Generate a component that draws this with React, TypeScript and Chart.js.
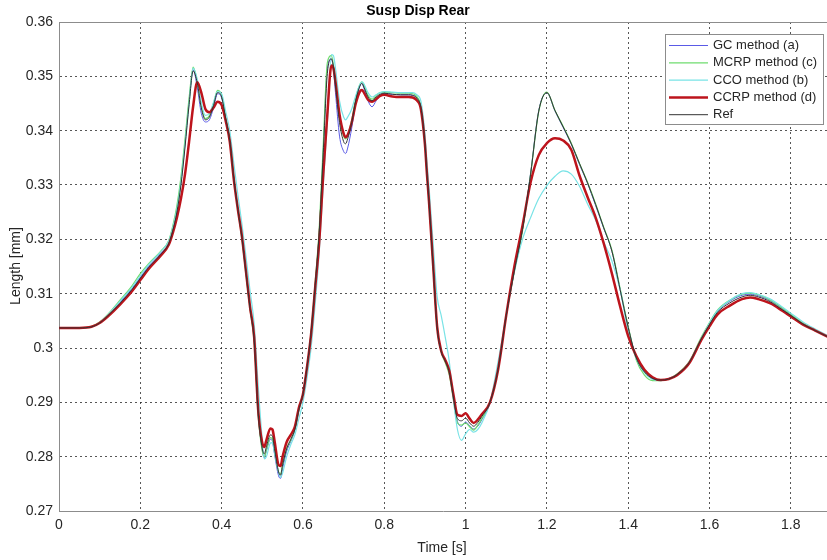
import { useEffect, useRef } from "react";
import { Chart, registerables } from "chart.js";

Chart.register(...registerables);

// Sample times [s]
const timeS = [
  0, 0.05, 0.08, 0.1, 0.12, 0.15, 0.18, 0.2, 0.22, 0.25,
  0.27, 0.28, 0.29, 0.3, 0.31, 0.32, 0.33, 0.34, 0.35, 0.36,
  0.37, 0.38, 0.39, 0.4, 0.41, 0.42, 0.43, 0.44, 0.45, 0.46,
  0.47, 0.48, 0.49, 0.5, 0.505, 0.51, 0.52, 0.525, 0.53, 0.54,
  0.545, 0.55, 0.56, 0.57, 0.58, 0.59, 0.6, 0.61, 0.62, 0.63,
  0.64, 0.65, 0.66, 0.67, 0.675, 0.68, 0.69, 0.7, 0.705, 0.71,
  0.72, 0.73, 0.74, 0.745, 0.75, 0.76, 0.77, 0.78, 0.79, 0.8,
  0.82, 0.84, 0.86, 0.87, 0.88, 0.89, 0.9, 0.905, 0.91, 0.92,
  0.93, 0.94, 0.95, 0.96, 0.97, 0.98, 0.99, 1.0, 1.01, 1.02,
  1.03, 1.04, 1.06, 1.08, 1.1, 1.12, 1.14, 1.16, 1.18, 1.2,
  1.22, 1.24, 1.26, 1.28, 1.3, 1.32, 1.34, 1.36, 1.38, 1.4,
  1.42, 1.44, 1.46, 1.48, 1.5, 1.52, 1.55, 1.58, 1.6, 1.62,
  1.65, 1.68, 1.7, 1.72, 1.75, 1.78, 1.8, 1.83, 1.86, 1.89,
];

// Suspension length [mm] per method
const gcMethodA = [
  0.3037, 0.3037, 0.3039, 0.3047, 0.3060, 0.3084, 0.3110, 0.3130, 0.3150, 0.3174,
  0.3194, 0.3220, 0.3256, 0.3308, 0.3378, 0.3455, 0.3512, 0.3480, 0.3432, 0.3416,
  0.3420, 0.3442, 0.3468, 0.3460, 0.3422, 0.3383, 0.3312, 0.3255, 0.3202, 0.3137,
  0.3072, 0.3014, 0.2878, 0.2812, 0.2798, 0.2810, 0.2832, 0.2828, 0.2805, 0.2765,
  0.2760, 0.2778, 0.2810, 0.2828, 0.2848, 0.2885, 0.2915, 0.2965, 0.3028, 0.3115,
  0.3212, 0.3365, 0.3515, 0.3532, 0.3512, 0.3470, 0.3390, 0.3362, 0.3358, 0.3368,
  0.3405, 0.3452, 0.3482, 0.3487, 0.3478, 0.3455, 0.3444, 0.3455, 0.3465, 0.3468,
  0.3467, 0.3466, 0.3466, 0.3465, 0.3461, 0.3444, 0.3377, 0.3321, 0.3270, 0.3153,
  0.3039, 0.2994, 0.2975, 0.2953, 0.2908, 0.2865, 0.2856, 0.2864, 0.2857, 0.2851,
  0.2856, 0.2868, 0.2898, 0.2960, 0.3060, 0.3142, 0.3218, 0.3322, 0.3437, 0.3470,
  0.3436, 0.3406, 0.3375, 0.3338, 0.3303, 0.3262, 0.3220, 0.3178, 0.3108, 0.3038,
  0.2982, 0.2955, 0.2944, 0.2941, 0.2944, 0.2952, 0.2974, 0.3018, 0.3045, 0.3068,
  0.3086, 0.3097, 0.3099, 0.3096, 0.3087, 0.3072, 0.3061, 0.3045, 0.3033, 0.3022,
];

const mcrpMethodC = [
  0.3037, 0.3037, 0.3040, 0.3048, 0.3062, 0.3088, 0.3115, 0.3137, 0.3155, 0.3178,
  0.3198, 0.3225, 0.3262, 0.3315, 0.3385, 0.3460, 0.3517, 0.3490, 0.3445, 0.3422,
  0.3428, 0.3450, 0.3474, 0.3465, 0.3425, 0.3385, 0.3315, 0.3255, 0.3200, 0.3135,
  0.3070, 0.3012, 0.2875, 0.2810, 0.2800, 0.2812, 0.2835, 0.2832, 0.2810, 0.2772,
  0.2768, 0.2785, 0.2815, 0.2830, 0.2850, 0.2885, 0.2915, 0.2965, 0.3030, 0.3120,
  0.3220, 0.3375, 0.3525, 0.3538, 0.3520, 0.3490, 0.3425, 0.3390, 0.3385, 0.3392,
  0.3420, 0.3460, 0.3485, 0.3490, 0.3484, 0.3465, 0.3458, 0.3465, 0.3470, 0.3471,
  0.3470, 0.3469, 0.3469, 0.3468, 0.3463, 0.3445, 0.3378, 0.3322, 0.3270, 0.3152,
  0.3038, 0.2993, 0.2973, 0.2950, 0.2905, 0.2862, 0.2858, 0.2862, 0.2855, 0.2849,
  0.2858, 0.2870, 0.2900, 0.2962, 0.3060, 0.3140, 0.3215, 0.3320, 0.3435, 0.3471,
  0.3437, 0.3408, 0.3377, 0.3340, 0.3305, 0.3265, 0.3222, 0.3180, 0.3110, 0.3040,
  0.2978, 0.2950, 0.2940, 0.2940, 0.2943, 0.2952, 0.2975, 0.3020, 0.3047, 0.3070,
  0.3088, 0.3099, 0.3101, 0.3098, 0.3088, 0.3073, 0.3062, 0.3046, 0.3033, 0.3022,
];

const ccoMethodB = [
  0.3037, 0.3037, 0.3039, 0.3047, 0.3061, 0.3086, 0.3112, 0.3133, 0.3153, 0.3177,
  0.3197, 0.3222, 0.3255, 0.3305, 0.3375, 0.3450, 0.3515, 0.3495, 0.3452, 0.3428,
  0.3432, 0.3452, 0.3472, 0.3468, 0.3435, 0.3400, 0.3340, 0.3282, 0.3228, 0.3168,
  0.3105, 0.3045, 0.2930, 0.2830, 0.2796, 0.2800, 0.2825, 0.2826, 0.2808, 0.2772,
  0.2762, 0.2770, 0.2800, 0.2822, 0.2840, 0.2870, 0.2900, 0.2945, 0.3000, 0.3080,
  0.3175, 0.3300, 0.3415, 0.3540, 0.3538, 0.3515, 0.3455, 0.3425, 0.3420, 0.3425,
  0.3440, 0.3465, 0.3485, 0.3490, 0.3486, 0.3470, 0.3462, 0.3466, 0.3470, 0.3472,
  0.3471, 0.3470, 0.3470, 0.3470, 0.3466, 0.3455, 0.3395, 0.3345, 0.3298, 0.3195,
  0.3095, 0.3060, 0.3020, 0.2975, 0.2905, 0.2850, 0.2830, 0.2842, 0.2850, 0.2845,
  0.2850, 0.2862, 0.2900, 0.2975, 0.3060, 0.3140, 0.3200, 0.3240, 0.3275, 0.3299,
  0.3316, 0.3326, 0.3320, 0.3298, 0.3265, 0.3235, 0.3195, 0.3160, 0.3108, 0.3030,
  0.2980, 0.2955, 0.2942, 0.2940, 0.2943, 0.2951, 0.2974, 0.3018, 0.3046, 0.3069,
  0.3088, 0.3100, 0.3102, 0.3099, 0.3090, 0.3075, 0.3064, 0.3048, 0.3035, 0.3023,
];

const ccrpMethodD = [
  0.3037, 0.3037, 0.3039, 0.3046, 0.3058, 0.3080, 0.3105, 0.3125, 0.3145, 0.3170,
  0.3190, 0.3212, 0.3240, 0.3275, 0.3320, 0.3380, 0.3445, 0.3489, 0.3470, 0.3440,
  0.3434, 0.3442, 0.3453, 0.3447, 0.3418, 0.3380, 0.3310, 0.3255, 0.3205, 0.3140,
  0.3075, 0.3020, 0.2885, 0.2825, 0.2818, 0.2830, 0.2852, 0.2850, 0.2830, 0.2785,
  0.2783, 0.2800, 0.2827, 0.2840, 0.2855, 0.2890, 0.2915, 0.2965, 0.3025, 0.3110,
  0.3195, 0.3320, 0.3430, 0.3520, 0.3515, 0.3490, 0.3430, 0.3395, 0.3388, 0.3392,
  0.3415, 0.3450, 0.3472, 0.3475, 0.3470, 0.3457, 0.3453, 0.3458, 0.3464, 0.3466,
  0.3463, 0.3462, 0.3462, 0.3461, 0.3456, 0.3440, 0.3375, 0.3320, 0.3270, 0.3155,
  0.3040, 0.2995, 0.2978, 0.2958, 0.2915, 0.2877, 0.2875, 0.2880, 0.2870, 0.2862,
  0.2868, 0.2878, 0.2900, 0.2960, 0.3060, 0.3150, 0.3225, 0.3305, 0.3355, 0.3377,
  0.3386, 0.3382, 0.3365, 0.3318, 0.3278, 0.3240, 0.3192, 0.3137, 0.3077, 0.3022,
  0.2985, 0.2960, 0.2946, 0.2941, 0.2943, 0.2950, 0.2972, 0.3015, 0.3040, 0.3062,
  0.3078, 0.3090, 0.3093, 0.3090, 0.3082, 0.3068, 0.3058, 0.3043, 0.3032, 0.3021,
];

const refLength = [
  0.3037, 0.3037, 0.3039, 0.3046, 0.3059, 0.3082, 0.3108, 0.3128, 0.3148, 0.3172,
  0.3192, 0.3216, 0.3250, 0.3300, 0.3370, 0.3448, 0.3510, 0.3488, 0.3442, 0.3420,
  0.3425, 0.3446, 0.3470, 0.3462, 0.3422, 0.3382, 0.3312, 0.3255, 0.3203, 0.3138,
  0.3073, 0.3015, 0.2880, 0.2815, 0.2805, 0.2818, 0.2840, 0.2838, 0.2815, 0.2772,
  0.2766, 0.2785, 0.2815, 0.2832, 0.2850, 0.2887, 0.2915, 0.2965, 0.3028, 0.3115,
  0.3212, 0.3360, 0.3505, 0.3532, 0.3518, 0.3485, 0.3415, 0.3380, 0.3376, 0.3385,
  0.3415, 0.3456, 0.3482, 0.3487, 0.3480, 0.3462, 0.3455, 0.3462, 0.3467, 0.3469,
  0.3467, 0.3466, 0.3466, 0.3465, 0.3460, 0.3443, 0.3377, 0.3321, 0.3270, 0.3153,
  0.3039, 0.2994, 0.2976, 0.2955, 0.2910, 0.2870, 0.2866, 0.2871, 0.2862, 0.2856,
  0.2863, 0.2874, 0.2900, 0.2961, 0.3060, 0.3142, 0.3218, 0.3320, 0.3436, 0.3470,
  0.3437, 0.3407, 0.3376, 0.3340, 0.3304, 0.3264, 0.3221, 0.3178, 0.3108, 0.3038,
  0.2982, 0.2956, 0.2944, 0.2941, 0.2943, 0.2951, 0.2973, 0.3017, 0.3043, 0.3066,
  0.3083, 0.3094, 0.3097, 0.3094, 0.3085, 0.3070, 0.3060, 0.3044, 0.3032, 0.3021,
];

const yTickValues = [0.27, 0.28, 0.29, 0.3, 0.31, 0.32, 0.33, 0.34, 0.35, 0.36];
const xTickValues = [0, 0.2, 0.4, 0.6, 0.8, 1, 1.2, 1.4, 1.6, 1.8];

const chartTitle = "Susp Disp Rear";
const xAxisTitle = "Time [s]";
const yAxisTitle = "Length [mm]";

const FONT = '"Liberation Sans", Arial, Helvetica, sans-serif';
const TEXT_COLOR = "#262626";
const AXIS_COLOR = "#8c8c8c";

const seriesDefs = [
  { label: "GC method (a)", values: gcMethodA, color: "#5a5ae6", width: 1, order: 5 },
  { label: "MCRP method (c)", values: mcrpMethodC, color: "#6fdc6f", width: 1.2, order: 4 },
  { label: "CCO method (b)", values: ccoMethodB, color: "#79e3e6", width: 1.2, order: 3 },
  { label: "CCRP method (d)", values: ccrpMethodD, color: "#bd141c", width: 2.5, order: 2 },
  { label: "Ref", values: refLength, color: "#333333", width: 1, order: 1 },
];

// Title, axis labels, top frame line and the boxed legend
const framePlugin = {
  id: "frameText",
  afterDraw(chart: any) {
    const { ctx, chartArea } = chart;
    ctx.save();

    ctx.strokeStyle = AXIS_COLOR;
    ctx.lineWidth = 1;
    ctx.beginPath();
    ctx.moveTo(chartArea.left, Math.round(chartArea.top) + 0.5);
    ctx.lineTo(chartArea.right, Math.round(chartArea.top) + 0.5);
    ctx.stroke();

    ctx.fillStyle = "#000";
    ctx.font = `bold 14px ${FONT}`;
    ctx.textAlign = "center";
    ctx.textBaseline = "middle";
    ctx.fillText(chartTitle, 418, 11);

    ctx.fillStyle = TEXT_COLOR;
    ctx.font = `14px ${FONT}`;
    ctx.fillText(xAxisTitle, 442, 548);

    ctx.save();
    ctx.translate(16, 266);
    ctx.rotate(-Math.PI / 2);
    ctx.fillText(yAxisTitle, 0, 0);
    ctx.restore();

    // legend box
    const bx = 665.5, by = 34.5, bw = 158, bh = 90;
    ctx.fillStyle = "#fff";
    ctx.fillRect(bx, by, bw, bh);
    ctx.strokeStyle = AXIS_COLOR;
    ctx.strokeRect(bx, by, bw, bh);
    ctx.font = `13px ${FONT}`;
    ctx.textAlign = "left";
    chart.data.datasets.forEach((ds: any, i: number) => {
      const y = 45.5 + i * 17.3;
      ctx.strokeStyle = ds.borderColor;
      ctx.lineWidth = ds.borderWidth;
      ctx.beginPath();
      ctx.moveTo(669, y);
      ctx.lineTo(708, y);
      ctx.stroke();
      ctx.fillStyle = TEXT_COLOR;
      ctx.fillText(ds.label, 713, y);
    });

    ctx.restore();
  },
};

function formatTick(v: number, digits: number) {
  return String(parseFloat(v.toFixed(digits)));
}

export default function App() {
  const canvasRef = useRef<HTMLCanvasElement | null>(null);

  useEffect(() => {
    const canvas = canvasRef.current;
    if (!canvas) return;

    const chart = new Chart(canvas, {
      type: "line",
      data: {
        datasets: seriesDefs.map((s) => ({
          label: s.label,
          data: timeS.map((t, i) => ({ x: t, y: s.values[i] })),
          borderColor: s.color,
          backgroundColor: s.color,
          borderWidth: s.width,
          pointRadius: 0,
          fill: false,
          cubicInterpolationMode: "monotone" as const,
          order: s.order,
        })),
      },
      options: {
        responsive: false,
        animation: false,
        events: [],
        layout: { padding: { top: 22, right: 0, bottom: 0, left: 0 } },
        plugins: {
          legend: { display: false },
          title: { display: false },
          tooltip: { enabled: false },
        },
        scales: {
          x: {
            type: "linear",
            min: 0,
            max: 1.889,
            afterBuildTicks: (scale: any) => {
              scale.ticks = xTickValues.map((v) => ({ value: v }));
            },
            afterFit: (scale: any) => {
              scale.height = 49;
            },
            ticks: {
              autoSkip: false,
              maxRotation: 0,
              padding: 6,
              color: TEXT_COLOR,
              font: { family: FONT, size: 14 },
              callback: (v: any) => formatTick(Number(v), 1),
            },
            grid: {
              color: "rgba(30,30,30,0.75)",
              lineWidth: 1,
              drawTicks: false,
            },
            border: { display: true, color: AXIS_COLOR, width: 1, dash: [2, 3] },
          },
          y: {
            type: "linear",
            min: 0.27,
            max: 0.36,
            afterBuildTicks: (scale: any) => {
              scale.ticks = yTickValues.map((v) => ({ value: v }));
            },
            afterFit: (scale: any) => {
              scale.width = 59;
            },
            ticks: {
              autoSkip: false,
              padding: 6,
              color: TEXT_COLOR,
              font: { family: FONT, size: 14 },
              callback: (v: any) => formatTick(Number(v), 2),
            },
            grid: {
              color: "rgba(30,30,30,0.75)",
              lineWidth: 1,
              drawTicks: false,
            },
            border: { display: true, color: AXIS_COLOR, width: 1, dash: [2, 3] },
          },
        },
      },
      plugins: [framePlugin],
    });

    return () => chart.destroy();
  }, []);

  return (
    <div style={{ position: "absolute", left: 0, top: 0, width: 827, height: 560, background: "#fff" }}>
      <canvas ref={canvasRef} width={827} height={560} style={{ display: "block" }} />
    </div>
  );
}
